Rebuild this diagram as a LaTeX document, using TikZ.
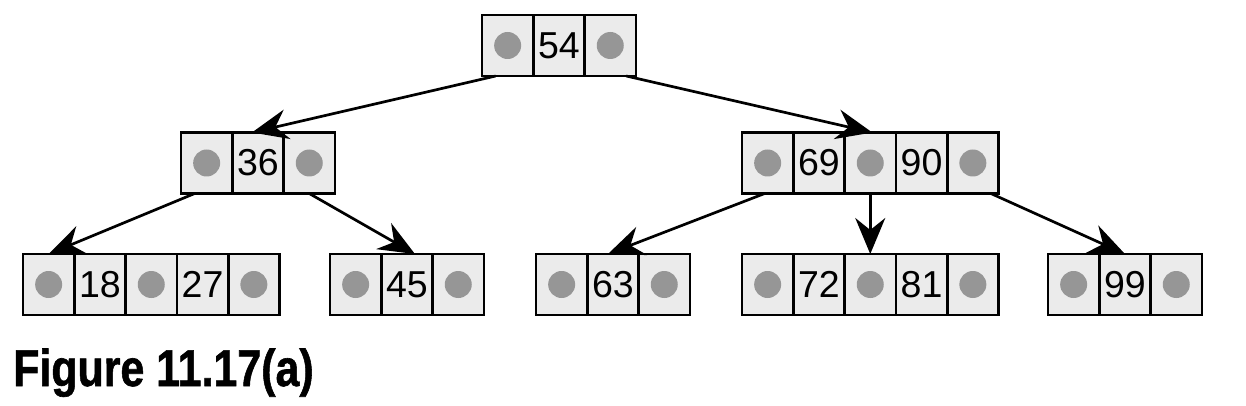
\documentclass[tikz,border=0pt]{standalone}
\usepackage{fontspec}
\usepackage{graphicx}
\setmainfont{Liberation Sans}
\newfontfamily\capfont[FakeBold=1.2]{Liberation Sans Bold}
\usetikzlibrary{arrows.meta}
\definecolor{cellfill}{RGB}{235,235,235}
\definecolor{dotgray}{RGB}{150,150,150}
\begin{document}
\begin{tikzpicture}[x=1pt,y=-1pt,
  cell/.style={draw, line width=2.7pt, fill=cellfill, minimum width=51.3pt, minimum height=61pt,
    inner sep=0pt, outer sep=0pt, anchor=north west, font=\fontsize{37.5}{40}\selectfont},
  ptr/.style={cell, path picture={\fill[dotgray] (path picture bounding box.center) circle (13.5pt);}},
  link/.style={line width=2.7pt, -{Stealth[length=36pt,width=30pt,inset=12pt]}},
  capt/.style={anchor=base west, inner sep=0pt, font=\fontsize{51.7}{56}\capfont}]
\useasboundingbox (0,0) rectangle (1246,406);
% root
\node[ptr]  (ra1) at (482,15) {};
\node[cell] (ra2) at (533.3,15) {54};
\node[ptr]  (ra3) at (584.6,15) {};
% level 2 left
\node[ptr]  (l1) at (181,132.5) {};
\node[cell] (l2) at (232.3,132.5) {36};
\node[ptr]  (l3) at (283.6,132.5) {};
% level 2 right
\node[ptr]  (m1) at (742,132.5) {};
\node[cell] (m2) at (793.3,132.5) {69};
\node[ptr]  (m3) at (844.6,132.5) {};
\node[cell] (m4) at (895.9,132.5) {90};
\node[ptr]  (m5) at (947.2,132.5) {};
% leaves
\node[ptr]  (a1) at (23,254) {};
\node[cell] (a2) at (74.3,254) {18};
\node[ptr]  (a3) at (125.6,254) {};
\node[cell] (a4) at (176.9,254) {27};
\node[ptr]  (a5) at (228.2,254) {};
\node[ptr]  (b1) at (330,254) {};
\node[cell] (b2) at (381.3,254) {45};
\node[ptr]  (b3) at (432.6,254) {};
\node[ptr]  (c1) at (536,254) {};
\node[cell] (c2) at (587.3,254) {63};
\node[ptr]  (c3) at (638.6,254) {};
\node[ptr]  (d1) at (742,254) {};
\node[cell] (d2) at (793.3,254) {72};
\node[ptr]  (d3) at (844.6,254) {};
\node[cell] (d4) at (895.9,254) {81};
\node[ptr]  (d5) at (947.2,254) {};
\node[ptr]  (e1) at (1048,254) {};
\node[cell] (e2) at (1099.3,254) {99};
\node[ptr]  (e3) at (1150.6,254) {};
% links
\draw[link] ([xshift=-12pt]ra1.south) -- ([xshift=-6pt]l2.north);
\draw[link] ([xshift=16pt]ra3.south) -- ([xshift=2pt]m3.north);
\draw[link] ([xshift=-12pt]l1.south) -- (a1.north);
\draw[link] (l3.south) -- ([xshift=8pt]b2.north);
\draw[link] ([xshift=-3pt]m1.south) -- ([xshift=-5pt]c2.north);
\draw[link] (m3.south) -- (d3.north);
\draw[link] ([xshift=18pt]m5.south) -- (e2.north);
% caption
\node[capt] (cap) at (13,386) {\scalebox{0.83}[1]{Figure 11.17(a)}};
\end{tikzpicture}
\end{document}
